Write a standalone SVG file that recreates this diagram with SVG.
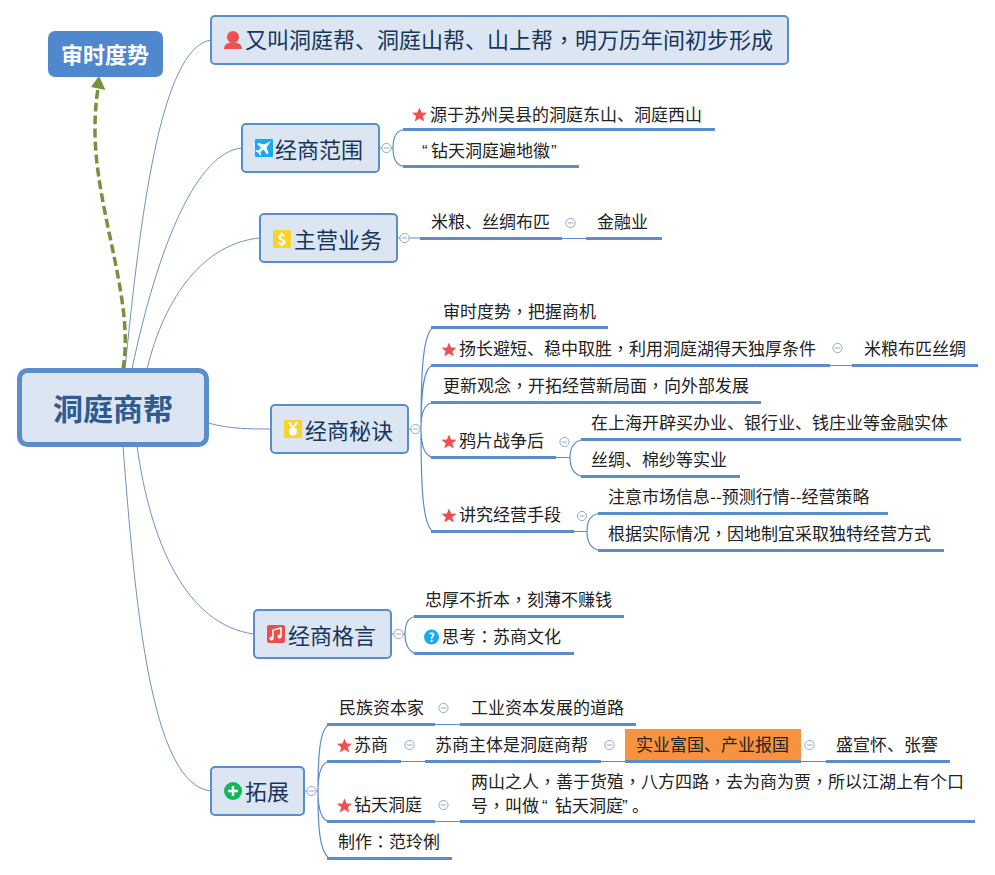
<svg xmlns="http://www.w3.org/2000/svg" width="995" height="875" viewBox="0 0 995 875">
<style>
text{font-family:"Noto Sans CJK SC","Noto Sans",sans-serif}
.n{fill:#dce6f2;stroke:#5a8ecb;stroke-width:2}
.t{font-size:22px;fill:#17365d}
.c{font-size:17px;fill:#222}
.u{stroke:#5a8ecb;stroke-width:3;fill:none}
.l{stroke:#5a8ecb;stroke-width:1.2;fill:none}
.m{stroke:#6f93c4;stroke-width:1;fill:none}
.o{fill:#fff;stroke:#8ea9c9;stroke-width:1}
.d{stroke:#8ea9c9;stroke-width:1}
.q{font-family:"Liberation Sans",sans-serif}
.p{font-family:"Noto Sans CJK TC",sans-serif}
</style>
<defs>
<polygon id="star" points="0,-7.500 2.100,-2.400 7.600,-2.200 3.300,1.200 4.800,6.600 0,3.500 -4.800,6.600 -3.300,1.200 -7.600,-2.200 -2.100,-2.400" fill="#ef4f4f"/>
<g id="col"><circle r="4.600" class="o"/><line x1="-2.500" x2="2.500" class="d"/></g>
</defs>

<g id="connectors">
<path class="m" d="M125 369C140 220 160 48 211 40"/>
<path class="m" d="M132 369C158 245 197 152 242 148"/>
<path class="m" d="M147 369C165 295 205 243 260 238"/>
<path class="m" d="M208 423C230 429 250 429 271 429"/>
<path class="m" d="M137 446C150 540 185 625 254 634"/>
<path class="m" d="M123 446C135 600 150 785 211 791"/>
<path d="M123 369C135 300 95 210 95 130C95 112 96 102 98 88" fill="none" stroke="#76923c" stroke-width="3.500" stroke-dasharray="9 4"/>
<polygon points="99,76 105.500,90 91,87" fill="#76923c"/>

<g id="branch-fanwei">
<path class="l" d="M380 148H382M391 148H393C393 137 397 130 405 129.500M393 148C393 159 397 166 405 166.500"/>
<path class="u" d="M403 129.500H715M403 166.500H579"/>
</g>
<g id="branch-yewu">
<path class="l" d="M398 238H400M409 238H422M562 238.500H586"/>
<path class="u" d="M420 238.500H562M586 238.500H662"/>
</g>
<g id="branch-mijue">
<path class="l" d="M409 429H411M420 429H421C421 380 422 335 433 327.500M421 429C421 395 423 367 433 365.500M421 429C421 415 423 404 433 402.500M421 429C421 445 424 456 433 457.500M421 429C421 480 422 525 433 531.500M830 365.500H852M556 457.500H570C570 448 574 441 583 439.500M570 457.500C570 468 574 475 583 476.500M574 531.500H587C587 522 590 514 600 513.500M587 531.500C587 541 590 549 600 550.500"/>
<path class="u" d="M431 327.500H608M431 365.500H830M852 365.500H978M431 402.500H761M431 457.500H556M581 439.500H961M581 476.500H740M431 531.500H574M598 513.500H888M598 550.500H944"/>
</g>
<g id="branch-geyan">
<path class="l" d="M392 634H394M403 634H405C405 625 408 617 416 616.500M405 634C405 643 408 652 416 653.500"/>
<path class="u" d="M414 616.500H624M414 653.500H574"/>
</g>
<g id="branch-tuozhan">
<path class="l" d="M305 791H307M316 791H318C318 760 319 730 329 724.500M318 791C318 778 320 763 329 761.500M318 791C318 805 320 820 329 821.500M318 791C318 825 319 850 329 858.500M435 724.500H460M401 761.500H425M601 761.500H625M801 761.500H826M435 821.500H460"/>
<path class="u" d="M327 724.500H435M460 724.500H636M327 761.500H401M425 761.500H601M826 761.500H950M327 821.500H435M460 821.500H975M327 858.500H452"/>
</g>
</g>

<g id="node-root"><rect x="19.500" y="370.500" width="187" height="74" rx="8" fill="#dce6f2" stroke="#5a8ecb" stroke-width="5"/><text x="113" y="420" text-anchor="middle" font-size="30" font-weight="700" fill="#2f5b93">洞庭商帮</text></g>
<g id="node-shenshi"><rect x="48" y="31" width="115" height="46" rx="7" fill="#4f88cd"/><text x="105" y="63" text-anchor="middle" font-size="22" font-weight="700" fill="#fff">审时度势</text></g>

<g id="node-youjiao"><rect class="n" x="211" y="16" width="577" height="48" rx="4"/>
<circle cx="233" cy="37" r="6" fill="#ef4f4f"/><path d="M224 49C224 44 228 42.500 233 42.500C238 42.500 242 44 242 49Z" fill="#ef4f4f"/>
<text class="t" x="245" y="48">又叫洞庭帮、洞庭山帮、山上帮<tspan class="p">，</tspan>明万历年间初步形成</text></g>

<g id="node-fanwei"><rect class="n" x="242" y="124" width="137" height="48" rx="4"/>
<rect x="255" y="139" width="18" height="18" rx="1" fill="#15aaf2"/><path d="M271 141L264 144.500L258.500 143L257 144L261 147.500L258.500 150.500L256 150L255.500 151L258.500 153L260 155.500L261 155L260.500 152L263.500 149.500L267 154.500L268.500 153L266.500 147.500Z" fill="#fff"/>
<text class="t" x="275" y="158">经商范围</text></g>
<g id="c-fan"><use href="#col" x="386.500" y="148"/><use href="#star" x="419.500" y="115"/><text class="c" x="430" y="121">源于苏州吴县的洞庭东山、洞庭西山</text>
<text class="c" x="422" y="157"><tspan class="q">“</tspan><tspan x="431">钻天洞庭遍地徽</tspan><tspan class="q" x="551">”</tspan></text></g>

<g id="node-yewu"><rect class="n" x="260" y="214" width="137" height="48" rx="4"/>
<rect x="273" y="230" width="18" height="18" rx="2" fill="#f6d32d"/><text x="282" y="245" text-anchor="middle" font-size="15" font-weight="700" fill="#fff">$</text>
<text class="t" x="294" y="248">主营业务</text></g>
<g id="c-ye"><use href="#col" x="404.500" y="238"/><text class="c" x="431" y="228">米粮、丝绸布匹</text><use href="#col" x="570.500" y="223"/><text class="c" x="597" y="228">金融业</text></g>

<g id="node-mijue"><rect class="n" x="271" y="405" width="137" height="48" rx="4"/>
<rect x="284" y="420" width="18" height="18" rx="1" fill="#f6d32d"/><path d="M289 422L293 428L297 422" fill="none" stroke="#fff" stroke-width="2"/><circle cx="293" cy="431.500" r="4" fill="#fff"/>
<text class="t" x="305" y="439">经商秘诀</text></g>
<g id="c-mi"><use href="#col" x="415.500" y="429"/>
<text class="c" x="443" y="318">审时度势<tspan class="p">，</tspan>把握商机</text>
<use href="#star" x="449" y="350"/><text class="c" x="459" y="355">扬长避短、稳中取胜<tspan class="p">，</tspan>利用洞庭湖得天独厚条件</text>
<use href="#col" x="837.500" y="348"/><text class="c" x="864" y="355">米粮布匹丝绸</text>
<text class="c" x="443" y="392">更新观念<tspan class="p">，</tspan>开拓经营新局面<tspan class="p">，</tspan>向外部发展</text>
<use href="#star" x="449" y="442"/><text class="c" x="459" y="447">鸦片战争后</text><use href="#col" x="564.500" y="442"/>
<text class="c" x="591" y="429">在上海开辟买办业、银行业、钱庄业等金融实体</text>
<text class="c" x="591" y="466">丝绸、棉纱等实业</text>
<use href="#star" x="449" y="516"/><text class="c" x="459" y="521">讲究经营手段</text><use href="#col" x="582" y="516"/>
<text class="c" x="608" y="503">注意市场信息--预测行情--经营策略</text>
<text class="c" x="608" y="540">根据实际情况<tspan class="p">，</tspan>因地制宜采取独特经营方式</text></g>

<g id="node-geyan"><rect class="n" x="254" y="610" width="137" height="48" rx="4"/>
<rect x="267" y="625" width="18" height="18" rx="2" fill="#e8504d"/><path d="M273 638V630L281 628V636" fill="none" stroke="#fff" stroke-width="1.500"/><circle cx="271.500" cy="638.500" r="2" fill="#fff"/><circle cx="279.500" cy="636.500" r="2" fill="#fff"/>
<text class="t" x="288" y="644">经商格言</text></g>
<g id="c-ge"><use href="#col" x="398.500" y="634"/><text class="c" x="425" y="606">忠厚不折本<tspan class="p">，</tspan>刻薄不赚钱</text>
<circle cx="431.500" cy="637" r="7.500" fill="#15aaf2"/><text x="431.500" y="641.500" text-anchor="middle" font-size="12" font-weight="700" fill="#fff">?</text>
<text class="c" x="442" y="643">思考<tspan class="p">：</tspan>苏商文化</text></g>

<g id="node-tuozhan"><rect class="n" x="211" y="767" width="93" height="48" rx="4"/>
<circle cx="233" cy="791" r="9" fill="#0fb956"/><path d="M233 786V796M228 791H238" stroke="#fff" stroke-width="2.500"/>
<text class="t" x="245" y="800">拓展</text></g>
<g id="c-tuo"><use href="#col" x="311.500" y="791"/>
<text class="c" x="339" y="714">民族资本家</text><use href="#col" x="443.500" y="708"/><text class="c" x="471" y="714">工业资本发展的道路</text>
<use href="#star" x="344.500" y="746"/><text class="c" x="354" y="751">苏商</text><use href="#col" x="409.500" y="745"/>
<text class="c" x="435" y="751">苏商主体是洞庭商帮</text><use href="#col" x="609.500" y="745"/>
<rect x="625" y="729" width="176" height="34" fill="#f79240"/><path class="u" d="M625 761.500H801"/>
<text class="c" x="636" y="751">实业富国、产业报国</text><use href="#col" x="809.500" y="745"/>
<text class="c" x="836" y="751">盛宣怀、张謇</text>
<use href="#star" x="344.500" y="806"/><text class="c" x="354" y="811">钻天洞庭</text><use href="#col" x="443.500" y="805"/>
<text class="c" x="471" y="788">两山之人<tspan class="p">，</tspan>善于货殖<tspan class="p">，</tspan>八方四路<tspan class="p">，</tspan>去为商为贾<tspan class="p">，</tspan>所以江湖上有个口</text>
<text class="c" x="471" y="812">号<tspan class="p">，</tspan>叫做<tspan class="q" x="542">“</tspan><tspan x="555">钻天洞庭</tspan><tspan class="q" x="622">”</tspan><tspan x="632">。</tspan></text>
<text class="c" x="338" y="848">制作<tspan class="p">：</tspan>范玲俐</text></g>
</svg>
